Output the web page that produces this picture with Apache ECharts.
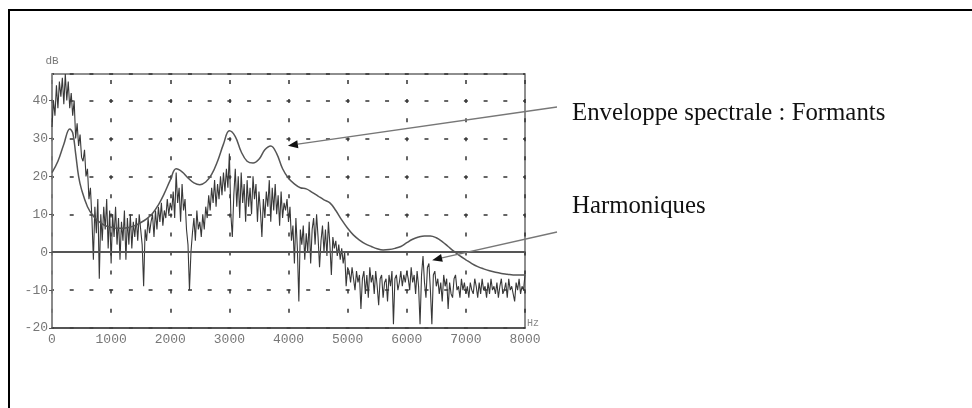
<!DOCTYPE html>
<html><head><meta charset="utf-8">
<script src="https://cdn.jsdelivr.net/npm/echarts@6/dist/echarts.min.js"></script>
<style>html,body{margin:0;padding:0;background:#fff}#c{width:972px;height:408px}</style>
</head><body><div id="c"></div>
<script>
// ---- data ----
const xTicks = [0, 1000, 2000, 3000, 4000, 5000, 6000, 7000, 8000];
const yTicks = [-20, -10, 0, 10, 20, 30, 40];
const harmStepHz = 25; // spectrum sampled every 25 Hz, 0..8000
const harmLow = [ // 0 .. 2000 Hz
  33, 40, 36, 44, 38, 45, 41, 46, 39, 47, 40, 45, 38, 42, 36, 40, 30, 34, 28, 31, 25,
  24, 27, 20, 22, 14, 17, 9, -2, 12, 5, 14, -7, 10, 3, 12, 6, 14, 1, 11, -3,
  10, 4, 12, 2, 9, -2, 8, 3, 11, -2, 9, 2, 10, 1, 8, 4, 9, 3, 10, 6,
  2, -9, 6, 3, 9, 5, 8, 10, 4, 11, 6, 12, 8, 13, 7, 11, 9, 14, 10, 13
];
const harmMid = [ // 2025 .. 5000 Hz
  11, 16, 9, 21, 13, 17, 8, 18, 11, 14, 6, 2, -10, 0, 5, 9, 3, 11, 6, 8,
  4, 10, 6, 12, 9, 15, 11, 17, 13, 19, 12, 18, 14, 20, 15, 21, 16, 22, 17, 26,
  10, 4, 15, 22, 12, 20, 9, 21, 13, 18, 8, 19, 12, 17, 10, 20, 14, 18, 8, 16,
  11, 4, 14, 9, 16, 12, 19, 8, 17, 11, 18, 10, 15, 7, 16, 9, 13, 11, 14, 8,
  12, 3, 7, -3, 9, 1, -13, 6, 2, 7, -2, 5, 0, 8, -3, 6, 9, 2, 10, 4,
  -4, 3, 7, 0, 6, -1, 8, 2, -6, 4, 1, 3, -1, 2, -2, 1, -3, 0, -9, -4
];
const harmHigh = [ // 5025 .. 8000 Hz
  -5, -8, -4, -7, -10, -5, -8, -6, -15, -7, -5, -11, -6, -12, -4, -8, -6, -11, -5, -9,
  -14, -7, -6, -12, -8, -7, -13, -6, -9, -5, -19, -7, -6, -10, -8, -5, -9, -6, -8, -5,
  -7, -10, -4, -8, -6, -11, -5, -9, -19, -6, -1, -8, -12, -4, -3, -10, -19, -6, -5, -9,
  -7, -11, -8, -13, -6, -9, -7, -15, -8, -11, -12, -7, -6, -10, -9, -12, -7, -10, -8, -11,
  -9, -12, -8, -10, -11, -7, -9, -12, -8, -11, -7, -10, -9, -12, -8, -11, -7, -10, -9, -11,
  -8, -12, -9, -7, -11, -10, -8, -12, -7, -10, -9, -11, -13, -8, -10, -7, -11, -9, -10, -6
];
const envFreq = [0, 100, 200, 300, 350, 400, 450, 500,
  600, 700, 800, 900, 1000, 1100, 1200, 1300, 1400, 1500,
  1600, 1700, 1800, 1900, 2000, 2100, 2200, 2300, 2400, 2500,
  2600, 2700, 2800, 2900, 3000, 3100, 3200, 3300, 3400, 3500,
  3600, 3700, 3800, 3900, 4000, 4100, 4200, 4300, 4400, 4500,
  4600, 4700, 4800, 4900, 5000, 5100, 5200, 5300, 5400, 5500,
  5600, 5700, 5800, 5900, 6000, 6100, 6200, 6300, 6400, 6500,
  6600, 6700, 6800, 6900, 7000, 7100, 7200, 7300, 7400, 7500,
  7600, 7700, 7800, 7900, 8000];
const envDb = [21, 24, 28.5, 32.5, 31.5, 26, 20, 16.5,
  12, 9.5, 8, 7, 6.6, 6.3, 6.3, 6.5, 7, 7.8,
  8.8, 10.2, 12.5, 15.5, 19, 22, 21.2, 19.6, 18.3, 17.8,
  18.5, 20.5, 24, 28.5, 32, 30.5, 26.5, 24, 23.5, 24.5,
  27, 28, 26, 22, 19.5, 18, 17, 16.7, 15.8, 14.8,
  13.8, 13, 11, 8.5, 6.3, 4.5, 3.2, 2.2, 1.5, 0.9,
  0.6, 0.7, 1, 1.5, 2.5, 3.4, 4, 4.3, 4.3, 3.8,
  2.8, 1.5, 0.2, -1, -2, -3, -3.8, -4.4, -4.9, -5.3,
  -5.6, -5.8, -6, -6, -6];
const annotations = [
  { text: 'Enveloppe spectrale : Formants', target: [3990, 28.1] },
  { text: 'Harmoniques', target: [6430, -2.1] }
];

// ---- build ----
const harmDb = harmLow.concat(harmMid, harmHigh);
const harmData = harmDb.map((v, i) => [i * harmStepHz, v]);
const envData = envFreq.map((f, i) => [f, envDb[i]]);

const chart = echarts.init(document.getElementById('c'));
const mono = 'Liberation Mono';
chart.setOption({
  animation: false,
  grid: { left: 52, top: 74, width: 473, height: 254, show: true, borderColor: '#6a6a6a', borderWidth: 1.5 },
  xAxis: {
    type: 'value', min: xTicks[0], max: xTicks[xTicks.length - 1], interval: 1000,
    axisLine: { onZero: false, lineStyle: { color: '#444', width: 1.5 } },
    axisTick: { show: false },
    axisLabel: { color: '#777', fontFamily: mono, fontSize: 13, margin: 5, formatter: v => String(v) },
    splitLine: { show: true, lineStyle: { color: '#333', width: 1.5, type: [4, 15.05], dashOffset: 13 } }
  },
  yAxis: {
    type: 'value', min: yTicks[0], max: 47, interval: 10,
    name: 'dB', nameLocation: 'end', nameGap: 7,
    nameTextStyle: { color: '#777', fontFamily: mono, fontSize: 11, align: 'center' },
    axisLine: { show: true, onZero: false, lineStyle: { color: '#888', width: 1.5 } },
    axisTick: { show: true, length: 3, lineStyle: { color: '#555' } },
    axisLabel: { color: '#777', fontFamily: mono, fontSize: 13, margin: 4, showMaxLabel: false, formatter: v => String(v) },
    splitLine: { show: true, lineStyle: { color: '#333', width: 1.5, type: [4, 15.71], dashOffset: 2 } }
  },
  series: [
    {
      type: 'line', data: harmData, symbol: 'none', z: 3,
      lineStyle: { color: '#383838', width: 1.1 }
    },
    {
      type: 'line', data: envData, symbol: 'none', smooth: 0.4, z: 4,
      lineStyle: { color: '#555', width: 1.5 },
      markLine: {
        silent: true, symbol: 'none', label: { show: false },
        lineStyle: { color: '#555', width: 2, type: 'solid' },
        data: [{ yAxis: 0 }]
      }
    }
  ]
});

// annotations + arrows
const labelPos = [[572, 113, 557, 107], [572, 206, 557, 232]];
const g = [
  { type: 'polyline', shape: { points: [[9, 408], [9, 10], [972, 10]] }, style: { stroke: '#000', lineWidth: 2, fill: null }, z: 10 },
  { type: 'text', x: 527, y: 323, style: { text: 'Hz', font: '10px "Liberation Mono"', fill: '#888', verticalAlign: 'middle', align: 'left' }, z: 10 }
];
annotations.forEach((a, i) => {
  const tip = chart.convertToPixel({ gridIndex: 0 }, a.target);
  const [tx, ty, sx, sy] = labelPos[i];
  const dx = tip[0] - sx, dy = tip[1] - sy, L = Math.hypot(dx, dy);
  const ux = dx / L, uy = dy / L, hl = 10, hw = 4;
  const bx = tip[0] - ux * hl, by = tip[1] - uy * hl;
  g.push({ type: 'line', shape: { x1: sx, y1: sy, x2: bx, y2: by }, style: { stroke: '#777', lineWidth: 1.3 }, z: 10 });
  g.push({ type: 'polygon', shape: { points: [[tip[0], tip[1]], [bx - uy * hw, by + ux * hw], [bx + uy * hw, by - ux * hw]] }, style: { fill: '#111' }, z: 10 });
  g.push({ type: 'text', x: tx, y: ty, style: { text: a.text, font: '24.8px "Liberation Serif"', fill: '#111', verticalAlign: 'middle', align: 'left' }, z: 10 });
});
chart.setOption({ graphic: g });
</script>
</body></html>
